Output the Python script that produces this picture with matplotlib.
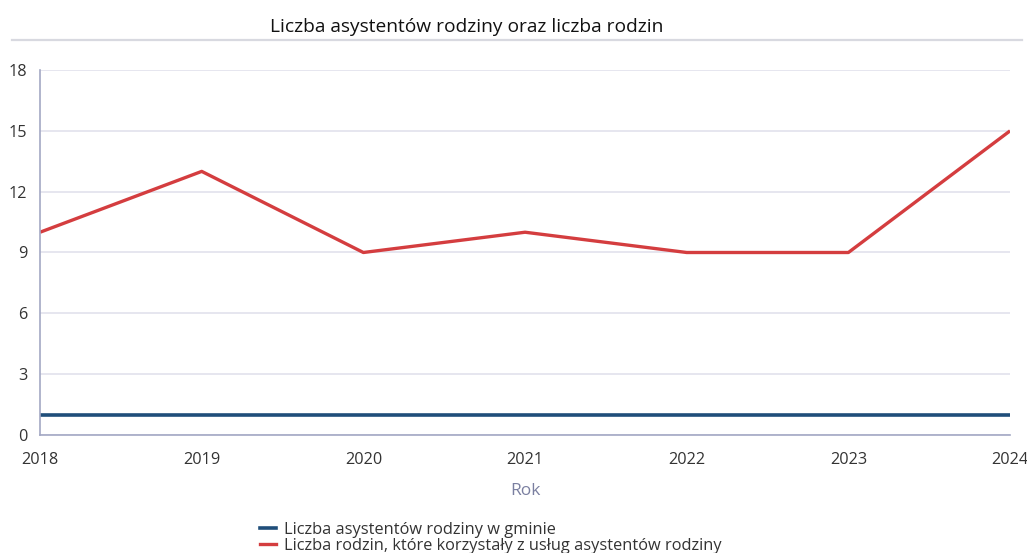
import matplotlib
matplotlib.use("Agg")
import matplotlib.pyplot as plt
from matplotlib.lines import Line2D

plt.rcParams['font.family'] = ['Open Sans', 'DejaVu Sans']

years = [2018, 2019, 2020, 2021, 2022, 2023, 2024]
asystenci = [1, 1, 1, 1, 1, 1, 1]
rodziny = [10, 13, 9, 10, 9, 9, 15]
yticks = [0, 3, 6, 9, 12, 15, 18]

label_asyst = 'Liczba asystentów rodziny w gminie'
label_rodz = 'Liczba rodzin, które korzystały z usług asystentów rodziny'

blue = '#1f4e7a'
red = '#d43d3f'
spine_col = '#a3a8c4'
grid_col = '#e2e2ec'
text_col = '#333333'

fig = plt.figure(figsize=(10.27, 5.53), dpi=100)
ax = fig.add_axes([0.039, 0.2134, 0.9445, 0.66])

ax.plot(years, asystenci, color=blue, lw=2.6, label=label_asyst, solid_capstyle='butt')
ax.plot(years, rodziny, color=red, lw=2.4, label=label_rodz, solid_capstyle='butt')

ax.set_xlim(2018, 2024)
ax.set_ylim(0, 18)
ax.set_yticks(yticks)
ax.set_xticks(years)
ax.grid(axis='y', color=grid_col, lw=1.2)
ax.set_axisbelow(True)
for s in ['top', 'right']:
    ax.spines[s].set_visible(False)
for s in ['left', 'bottom']:
    ax.spines[s].set_color(spine_col)
    ax.spines[s].set_linewidth(1.2)
ax.tick_params(length=0, labelsize=11.7, colors=text_col)
ax.tick_params(axis='y', pad=9)
ax.tick_params(axis='x', pad=12)
ax.set_xlabel('Rok', fontsize=12.5, color='#7a7fa0', labelpad=11)

fig.text(0.454, 0.952, 'Liczba asystentów rodziny oraz liczba rodzin',
         ha='center', va='center', fontsize=13.8, color='#111111')
fig.add_artist(Line2D([0.012, 0.995], [0.928, 0.928], color='#d8d9e0', lw=1.6,
                      transform=fig.transFigure))

handles = [Line2D([], [], color=blue, lw=2.6), Line2D([], [], color=red, lw=2.4)]
fig.legend(handles, [label_asyst, label_rodz], loc='upper left',
           bbox_to_anchor=(0.245, 0.071), frameon=False, fontsize=11.8,
           handlelength=1.0, handletextpad=0.5, labelspacing=0.0,
           borderpad=0, labelcolor='#333333')

fig.savefig('out.png', dpi=100)
